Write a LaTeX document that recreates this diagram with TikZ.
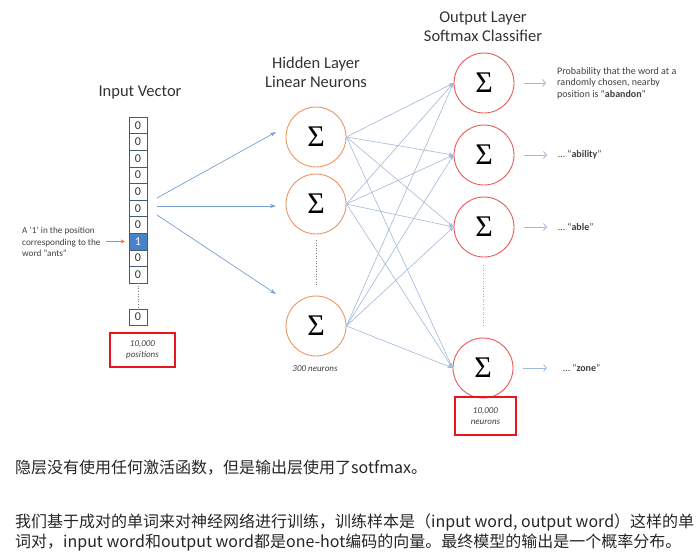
\documentclass[tikz,border=0pt]{standalone}
\usepackage{fontspec}
\setmainfont{Carlito}
\newfontfamily\cjk{Noto Sans CJK SC}
\newfontfamily\sigfont{Liberation Serif}
\usetikzlibrary{arrows.meta}
\definecolor{linkblue}{RGB}{160,186,218}
\definecolor{arrowblue}{RGB}{120,160,210}
\definecolor{cellline}{RGB}{70,90,120}
\definecolor{cellblue}{RGB}{72,130,200}
\definecolor{hidorange}{RGB}{236,150,100}
\definecolor{outred}{RGB}{232,90,90}
\definecolor{boxred}{RGB}{232,20,30}
\definecolor{annorange}{RGB}{237,125,49}

\begin{document}
\begin{tikzpicture}[x=1pt,y=-1pt,
  title/.style={font=\fontsize{16.5}{19}\selectfont, text=black!80, align=center},
  cell/.style={draw=cellline, minimum width=18pt, minimum height=16.6pt, inner sep=0pt, font=\fontsize{12}{12}\selectfont, text=black!80},
  hidden/.style={circle, draw=hidorange, line width=0.9pt, minimum size=60pt, inner sep=0pt, font=\sigfont\fontsize{30}{30}\selectfont},
  output/.style={circle, draw=outred, line width=0.9pt, minimum size=60pt, inner sep=0pt, font=\sigfont\fontsize{30}{30}\selectfont},
  link/.style={linkblue, line width=0.6pt, -{Stealth[length=5pt,width=3.5pt]}},
  inarrow/.style={arrowblue, line width=0.7pt, -{Stealth[length=6pt,width=4pt]}},
  outarrow/.style={linkblue, line width=0.8pt, -{Straight Barb[length=3pt,width=7pt]}},
  note/.style={font=\fontsize{9.2}{11.5}\selectfont, text=black!75, align=left, inner sep=0pt},
  onote/.style={font=\fontsize{10}{11.5}\selectfont, text=black!75, align=left, inner sep=0pt, anchor=west},
  redbox/.style={draw=boxred, line width=2.2pt, align=center, font=\fontsize{9}{11}\selectfont\itshape, text=black!75},
  dotline/.style={gray, dotted, line width=0.6pt},
  zh/.style={font=\cjk\fontsize{16}{16}\selectfont, text=black!85, inner sep=0pt, anchor=west}
]
\useasboundingbox[fill=white] (0,0) rectangle (698,558);

\node[title] (tin) at (140,93) {Input Vector};
\node[title] (thid) at (316,72) {Hidden Layer\\Linear Neurons};
\node[title] (tout) at (483,27) {Output Layer\\Softmax Classifier};

\foreach \i in {0,...,9}
  \node[cell] (c\i) at (138,125.3+\i*16.6) {0};
\node[cell, fill=cellblue, text=white] at (c7) {1};
\node[cell] (cn) at (138,317) {0};
\draw[dotline] (c9.south) -- (cn.north);

\node[note] (ann) at (22,242) [anchor=west] {A ‘1’ in the position\\corresponding to the\\word “ants”};
\draw[annorange, line width=1pt, -{Stealth[length=4pt,width=4pt]}, shorten <=5pt, shorten >=4pt] (ann.east |- c7.west) -- (c7.west);

\node[hidden] (h1) at (316,137) {Σ};
\node[hidden] (h2) at (316,204) {Σ};
\node[hidden] (h3) at (316,326) {Σ};
\draw[dotline] (316,240) -- (316,285);

\node[output] (o1) at (484,83) {Σ};
\node[output] (o2) at (484,155) {Σ};
\node[output] (o3) at (484,227) {Σ};
\node[output] (o4) at (483,368) {Σ};
\draw[dotline, linkblue!80!gray] (483,265) -- (483,325);

\coordinate (s1) at (157,198);
\coordinate (s2) at (157,206);
\coordinate (s3) at (157,215);
\coordinate (e1) at (276,132);
\coordinate (e2) at (276,206);
\coordinate (e3) at (276,294);
\draw[inarrow] (s1) -- (e1);
\draw[inarrow] (s2) -- (e2);
\draw[inarrow] (s3) -- (e3);

\foreach \h in {1,2,3}
  \foreach \o in {1,2,3,4}
    \draw[link] (h\h.east) -- (o\o.west);

\node[onote] (t1) at (557,83) {Probability that the word at a\\randomly chosen, nearby\\position is “\textbf{abandon}”};
\node[onote] (t2) at (558,155) {\ldots\ “\textbf{ability}”};
\node[onote] (t3) at (558,227) {\ldots\ “\textbf{able}”};
\node[onote] (t4) at (563,368) {\ldots\ “\textbf{zone}”};
\draw[outarrow, shorten <=10pt, shorten >=11pt] (o1) -- (t1.west);
\draw[outarrow, shorten <=10pt, shorten >=11pt] (o2) -- (t2.west);
\draw[outarrow, shorten <=10pt, shorten >=11pt] (o3) -- (t3.west);
\draw[outarrow, shorten <=10pt, shorten >=16pt] (o4) -- (t4.west);

\node[redbox, minimum width=65pt, minimum height=34pt] (npos) at (142.5,350) {10,000\\positions};
\node[font=\fontsize{9}{11}\selectfont\itshape, text=black!75] (nhid) at (315,369) {300 neurons};
\node[redbox, minimum width=61pt, minimum height=38pt] (nout) at (485.5,416) {10,000\\neurons};

\node[zh] (b1) at (15,468) {隐层没有使用任何激活函数，但是输出层使用了sotfmax。};
\node[zh] (b2) at (15,522) {我们基于成对的单词来对神经网络进行训练，训练样本是（input word, output word）这样的单};
\node[zh] (b3) at (15,543) {词对，input word和output word都是one-hot编码的向量。最终模型的输出是一个概率分布。};
\end{tikzpicture}
\end{document}
